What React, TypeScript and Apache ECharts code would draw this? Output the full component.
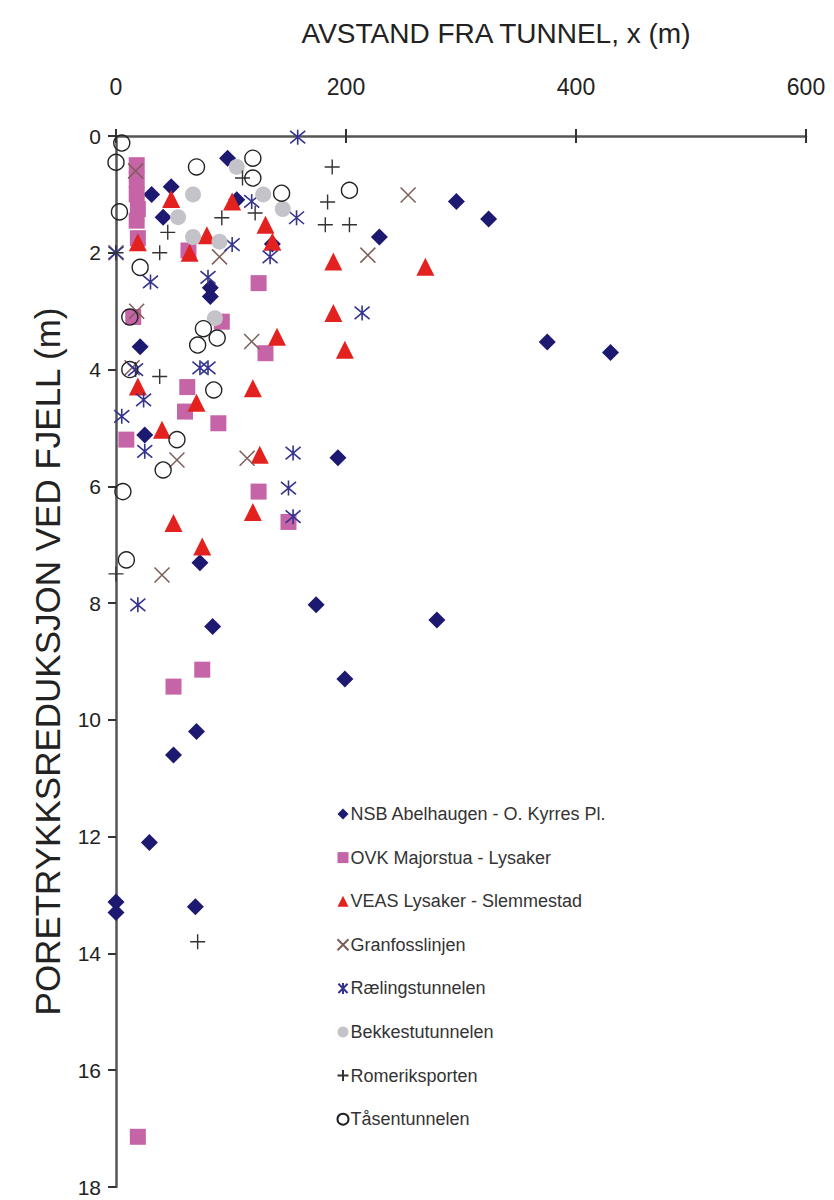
import React, { useEffect, useRef } from "react";
import * as echarts from "echarts";

const xTicks = [0, 200, 400, 600];
const yTicks = [0, 2, 4, 6, 8, 10, 12, 14, 16, 18];

const seriesNames = [
  "NSB Abelhaugen - O. Kyrres Pl.",
  "OVK Majorstua - Lysaker",
  "VEAS Lysaker - Slemmestad",
  "Granfosslinjen",
  "Rælingstunnelen",
  "Bekkestutunnelen",
  "Romeriksporten",
  "Tåsentunnelen",
];

const nsb = [
  [97, 0.38], [31, 1.0], [48, 0.87], [105, 1.09], [41, 1.39], [136, 1.85], [296, 1.12], [324, 1.42],
  [229, 1.73], [82, 2.6], [82, 2.75], [21, 3.61], [375, 3.53], [430, 3.71], [25, 5.12], [193, 5.51],
  [73, 7.31], [174, 8.03], [279, 8.29], [84, 8.4], [199, 9.3], [70, 10.2], [50, 10.6], [29, 12.1],
  [0, 13.12], [0, 13.3], [69, 13.2],
];
const ovk = [
  [18, 0.5], [18, 0.75], [18, 1.0], [19, 1.25], [18, 1.45], [19, 1.75], [63, 1.96], [124, 2.52],
  [15, 3.1], [92, 3.18], [130, 3.72], [62, 4.3], [60, 4.72], [89, 4.92], [9, 5.2], [124, 6.09],
  [150, 6.61], [75, 9.14], [50, 9.43], [19, 17.14],
];
const veas = [
  [48, 1.08], [101, 1.12], [19, 1.82], [79, 1.7], [64, 2.0], [130, 1.52], [136, 1.81], [189, 2.15],
  [269, 2.24], [189, 3.03], [140, 3.44], [199, 3.66], [19, 4.29], [119, 4.32], [70, 4.57], [40, 5.03],
  [125, 5.46], [50, 6.63], [119, 6.44], [75, 7.03],
];
const granfoss = [
  [17, 0.6], [254, 1.01], [219, 2.04], [90, 2.07], [0, 2.0], [18, 3.0], [118, 3.52], [14, 3.97],
  [53, 5.55], [114, 5.52], [40, 7.52],
];
const raeling = [
  [158, 0.02], [118, 1.12], [157, 1.4], [101, 1.86], [134, 2.07], [0, 2.0], [30, 2.5], [80, 2.42],
  [214, 3.03], [73, 3.97], [80, 3.97], [17, 4.0], [24, 4.52], [5, 4.8], [25, 5.4], [154, 5.43],
  [150, 6.03], [154, 6.52], [19, 8.03],
];
const bekkestu = [
  [105, 0.53], [67, 1.0], [54, 1.39], [67, 1.73], [90, 1.81], [128, 1.0], [145, 1.25], [86, 3.12],
];
const romerik = [
  [188, 0.53], [110, 0.72], [184, 1.13], [182, 1.52], [203, 1.52], [121, 1.32], [92, 1.4], [45, 1.65],
  [38, 2.0], [0, 2.0], [38, 4.12], [0, 7.5], [71, 13.8],
];
const taasen = [
  [5, 0.12], [0, 0.45], [70, 0.53], [119, 0.38], [119, 0.72], [144, 0.98], [203, 0.93], [3, 1.3],
  [21, 2.25], [12, 3.1], [76, 3.3], [88, 3.46], [71, 3.58], [12, 4.0], [85, 4.35], [53, 5.2],
  [41, 5.72], [6, 6.09], [9, 7.26],
];

const X_PATH = "path://M0,0L10,10M10,0L0,10";
const STAR_PATH = "path://M0,0L10,10M10,0L0,10M5,-1L5,11";
const PLUS_PATH = "path://M5,0L5,10M0,5L10,5";

export default function App() {
  const ref = useRef<HTMLDivElement>(null);
  useEffect(() => {
    document.body.style.margin = "0";
    const chart = echarts.init(ref.current!, null, { renderer: "svg" });
    const font = "Liberation Sans, Arial, sans-serif";
    const filled = (name: string, data: number[][], symbol: string, size: number, color: string) => ({
      type: "scatter", name, data, symbol, symbolSize: size, xAxisIndex: 0, yAxisIndex: 0,
      itemStyle: { color, opacity: 1 },
    });
    const stroked = (name: string, data: number[][], symbol: string, size: number, color: string, w: number) => ({
      type: "scatter", name, data, symbol, symbolSize: size, xAxisIndex: 0, yAxisIndex: 0,
      itemStyle: { color: "none", borderColor: color, borderWidth: w, opacity: 1 },
    });
    chart.setOption({
      animation: false,
      backgroundColor: "#fff",
      title: {
        text: "AVSTAND FRA TUNNEL, x (m)",
        left: 491, top: 14, textAlign: "center",
        textStyle: { fontFamily: font, fontSize: 28, fontWeight: "normal", color: "#222" },
      },
      grid: { left: 116, top: 136, right: 28, bottom: 13, containLabel: false },
      legend: {
        orient: "vertical", left: 330, top: 800, itemGap: 25.6, itemWidth: 11, itemHeight: 11,
        textStyle: { fontFamily: font, fontSize: 18, color: "#333", padding: [0, 0, 0, -3] },
        data: seriesNames,
      },
      xAxis: [
        {
          type: "value", position: "top", min: 0, max: 600, interval: 200,
          axisLine: { show: true, onZero: false, lineStyle: { color: "#555", width: 2.5 } },
          axisTick: { show: true, inside: false, length: 7, lineStyle: { color: "#333", width: 2 } },
          axisLabel: { fontFamily: font, fontSize: 23, color: "#222", margin: 38 },
          splitLine: { show: false },
        },
        {
          type: "value", position: "top", min: 0, max: 600, interval: 200,
          axisLine: { show: false },
          axisTick: { show: true, inside: true, length: 7, lineStyle: { color: "#333", width: 2 } },
          axisLabel: { show: false },
          splitLine: { show: false },
        },
      ],
      yAxis: [
        {
          type: "value", inverse: true, min: 0, max: 18, interval: 2,
          name: "PORETRYKKSREDUKSJON VED FJELL (m)", nameLocation: "middle", nameGap: 51,
          nameTextStyle: { fontFamily: font, fontSize: 35, color: "#222" },
          axisLine: { show: true, onZero: false, lineStyle: { color: "#555", width: 2.5 } },
          axisTick: { show: true, inside: false, length: 8, lineStyle: { color: "#333", width: 2 } },
          axisLabel: { fontFamily: font, fontSize: 21, color: "#222", margin: 15 },
          splitLine: { show: false },
        },
        {
          type: "value", inverse: true, min: 0, max: 18, interval: 2,
          axisLine: { show: false },
          axisTick: { show: true, inside: true, length: 8, lineStyle: { color: "#333", width: 2 } },
          axisLabel: { show: false },
          splitLine: { show: false },
        },
      ],
      series: [
        filled(seriesNames[0], nsb, "diamond", 17, "#1d1870"),
        filled(seriesNames[1], ovk, "rect", 16, "#c564a6"),
        filled(seriesNames[2], veas, "triangle", 18, "#e3211f"),
        stroked(seriesNames[3], granfoss, X_PATH, 15, "#7d5d58", 1.5),
        stroked(seriesNames[4], raeling, STAR_PATH, 15, "#34338e", 1.6),
        filled(seriesNames[5], bekkestu, "circle", 16, "#c3c3c9"),
        stroked(seriesNames[6], romerik, PLUS_PATH, 15, "#333333", 1.4),
        stroked(seriesNames[7], taasen, "circle", 16, "#222222", 1.4),
      ],
    });
    return () => chart.dispose();
  }, []);
  return <div ref={ref} style={{ width: 834, height: 1200 }} />;
}
